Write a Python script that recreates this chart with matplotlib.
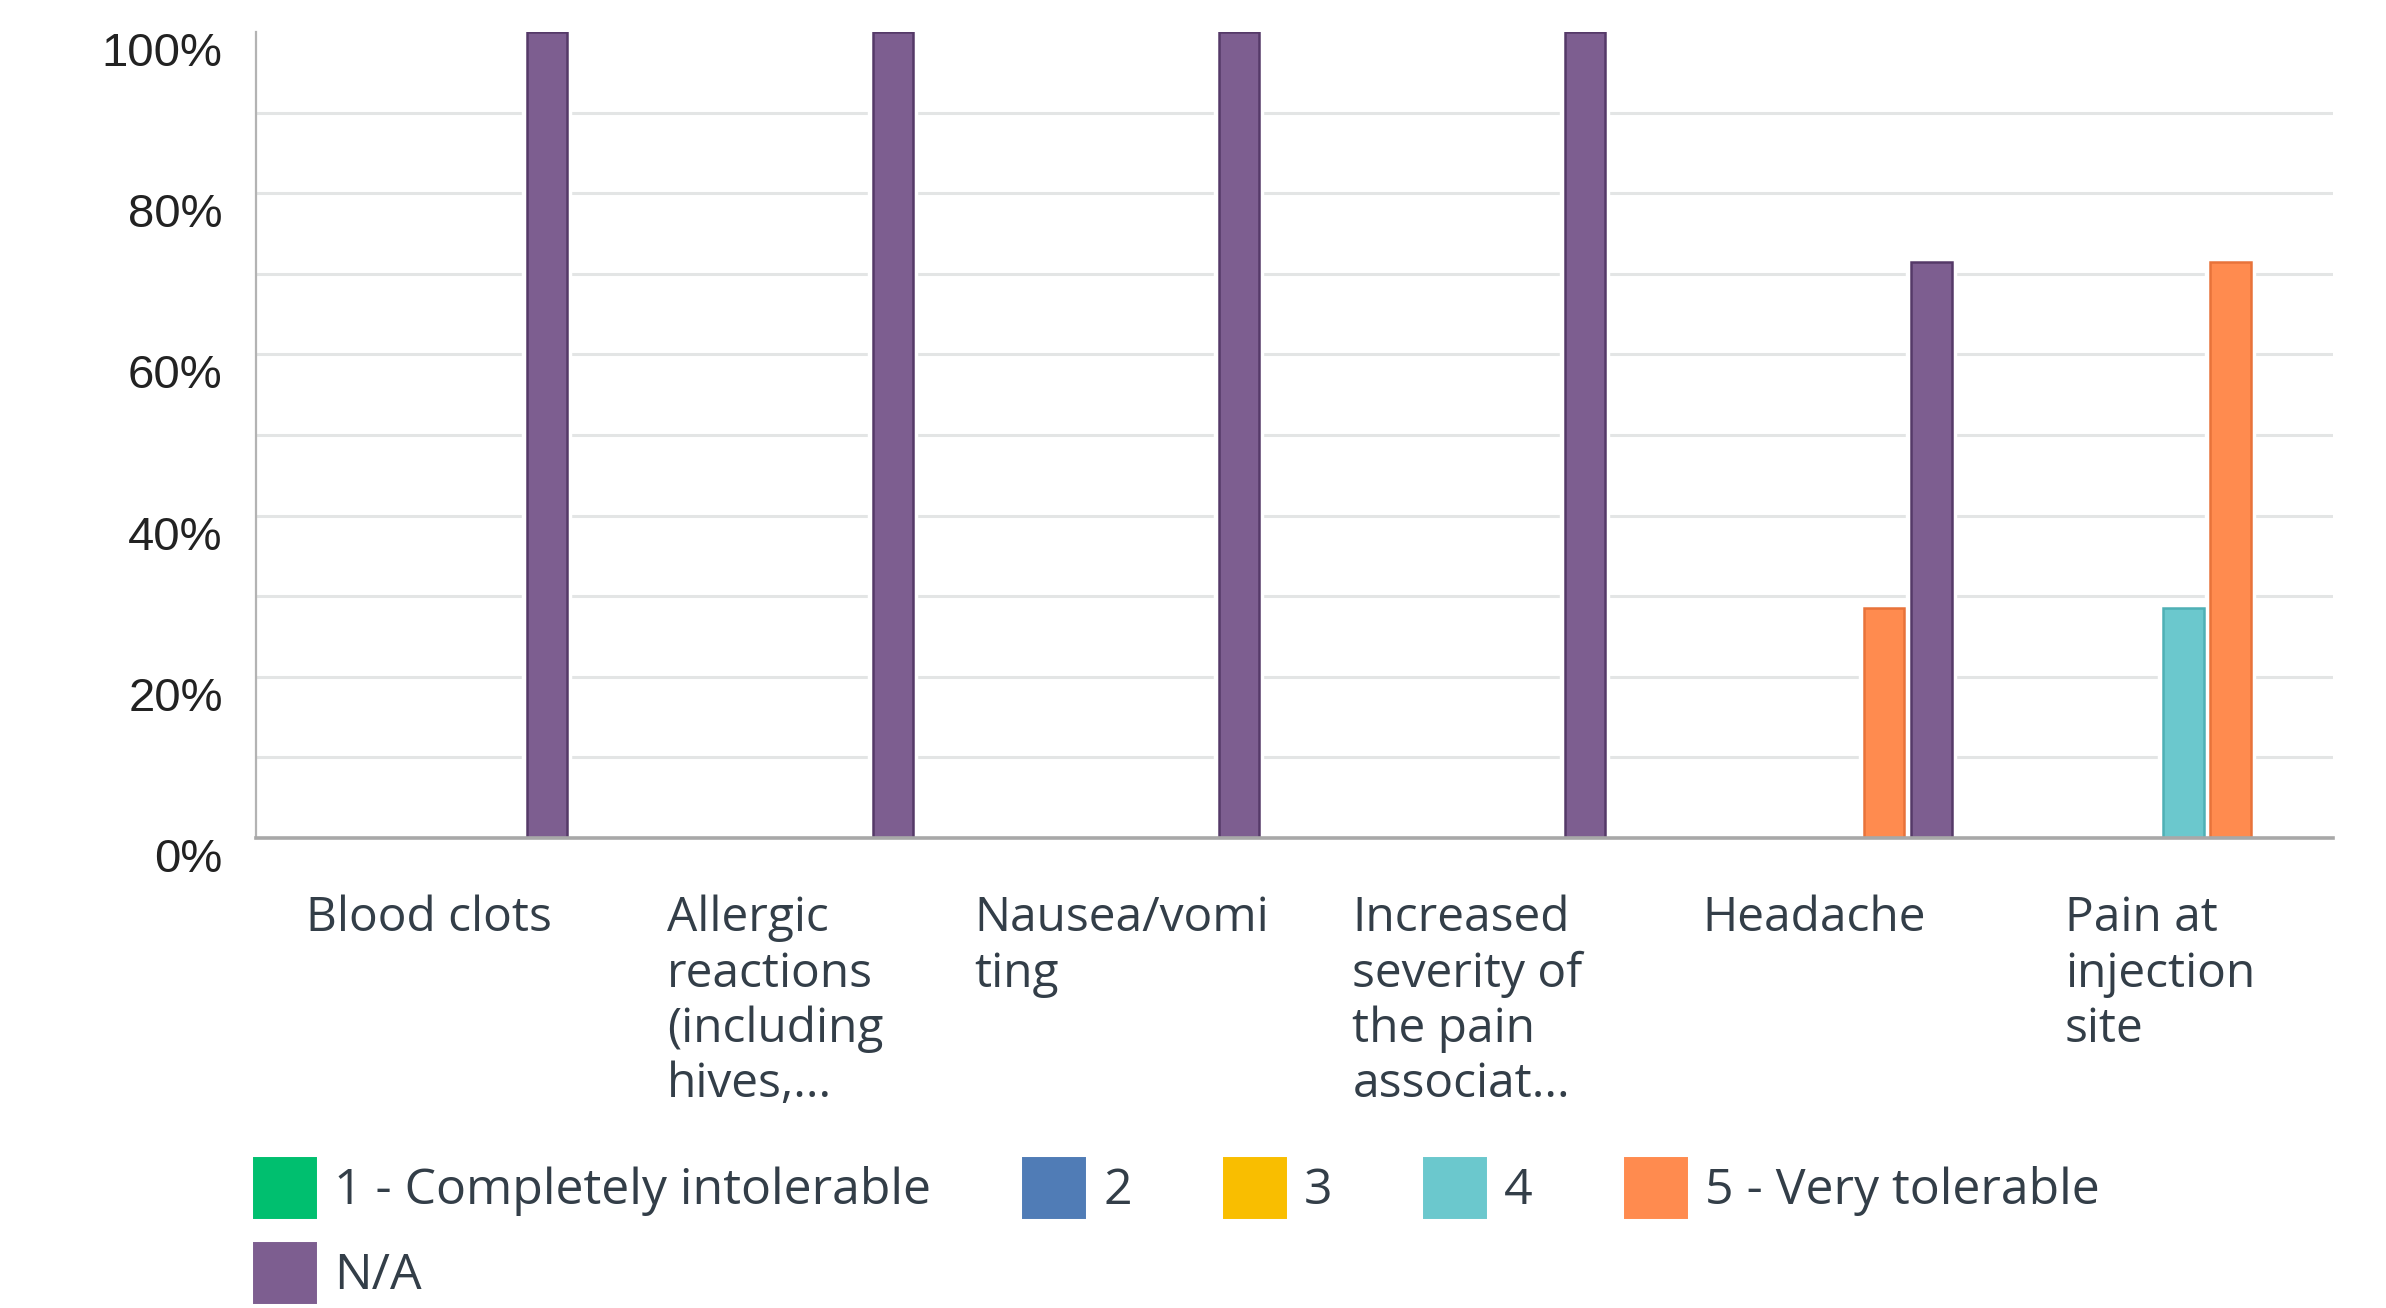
import numpy as np
import matplotlib
matplotlib.use("Agg")
import matplotlib.pyplot as plt
from matplotlib.patches import Rectangle

# survey results, percent of respondents per tolerability rating
categories = [
    "Blood clots",
    "Allergic\nreactions\n(including\nhives,...",
    "Nausea/vomi\nting",
    "Increased\nseverity of\nthe pain\nassociat...",
    "Headache",
    "Pain at\ninjection\nsite",
]
series_names = ["1 - Completely intolerable", "2", "3", "4", "5 - Very tolerable", "N/A"]
rating_1 = [0, 0, 0, 0, 0, 0]
rating_2 = [0, 0, 0, 0, 0, 0]
rating_3 = [0, 0, 0, 0, 0, 0]
rating_4 = [0, 0, 0, 0, 0, 28.57]
rating_5 = [0, 0, 0, 0, 28.57, 71.43]
rating_na = [100, 100, 100, 100, 71.43, 0]
y_ticks = [0, 20, 40, 60, 80, 100]
y_tick_labels = ["0%", "20%", "40%", "60%", "80%", "100%"]

colors = ["#00BF6F", "#507CB6", "#F9BE00", "#6BC8CD", "#FF8B4F", "#7D5E90"]
edges = ["#009a59", "#3b5f90", "#d9a300", "#4fb0b5", "#e8733a", "#553968"]

text_color = "#333e48"

fig = plt.figure(figsize=(23.86, 13.08), dpi=100)
ax = fig.add_axes([0.1073, 0.3593, 0.8705, 0.6162])

values = [rating_1, rating_2, rating_3, rating_4, rating_5, rating_na]
x = np.arange(len(categories))
slot = 0.136
bar_w = 0.116

# light gridlines every 10%, no line at the top
for g in range(10, 100, 10):
    ax.axhline(g, color="#e3e5e5", lw=2.2, zorder=1)

for i, vals in enumerate(values):
    offs = (i - 2.5) * slot
    xs = [xx + offs for xx, v in zip(x, vals) if v > 0]
    hs = [v for v in vals if v > 0]
    if not xs:
        continue
    # white halo that breaks the gridlines around each bar
    ax.bar(xs, hs, width=bar_w, color="white", edgecolor="white",
           linewidth=7.5, zorder=2)
    ax.bar(xs, hs, width=bar_w, color=colors[i], edgecolor=edges[i],
           linewidth=1.8, zorder=3)

ax.set_xlim(-0.5, len(categories) - 0.5)
ax.set_ylim(0, 100)

for side in ["top", "right"]:
    ax.spines[side].set_visible(False)
ax.spines["left"].set_color("#b3b3b3")
ax.spines["left"].set_linewidth(1.6)
ax.spines["bottom"].set_color("#a8a8a8")
ax.spines["bottom"].set_linewidth(2.6)
ax.spines["left"].set_zorder(4)
ax.spines["bottom"].set_zorder(4)

ax.set_yticks(y_ticks)
ax.set_yticklabels(y_tick_labels, fontsize=34, color="#222222",
                   family=["Liberation Sans", "DejaVu Sans"])
for lab in ax.get_yticklabels():
    lab.set_va("top")
ax.tick_params(axis="y", length=0, pad=24)

ax.set_xticks(x)
ax.set_xticklabels(categories, fontsize=34.5, color=text_color,
                   family=["Open Sans", "DejaVu Sans"], linespacing=1.21,
                   va="top", ha="center", multialignment="left")
ax.tick_params(axis="x", length=0, pad=41)

# legend: first column holds the long label and N/A
order = [0, 5, 1, 2, 3, 4]
handles = [Rectangle((0, 0), 1, 1, facecolor=colors[i], edgecolor=colors[i],
                     linewidth=5, joinstyle="round") for i in order]
labels = [series_names[i] for i in order]
leg = fig.legend(handles, labels, loc="upper left",
                 bbox_to_anchor=(0.1073, 1 - 1160 / 1308), ncol=5,
                 frameon=False, borderpad=0, borderaxespad=0,
                 handlelength=1.14, handleheight=1.3, handletextpad=0.42,
                 columnspacing=1.88, labelspacing=0.58,
                 prop={"family": ["Open Sans", "DejaVu Sans"], "size": 36})
for t in leg.get_texts():
    t.set_color(text_color)

fig.savefig("out.png", dpi=100, facecolor="white")
